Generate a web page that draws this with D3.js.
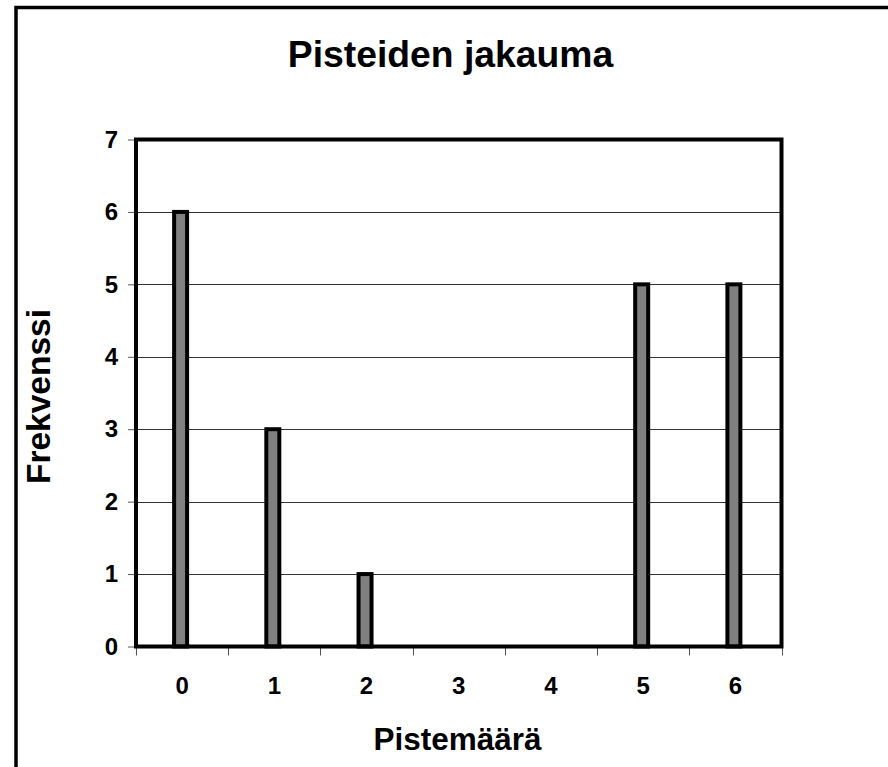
<!DOCTYPE html>
<html><head><meta charset="utf-8">
<script src="https://cdn.jsdelivr.net/npm/d3@7"></script>
<style>html,body{margin:0;padding:0;background:#fff;overflow:hidden}</style>
</head><body>
<script>
const categories = ["0","1","2","3","4","5","6"];
const values = [6,3,1,0,0,5,5];
const yTicks = [0,1,2,3,4,5,6,7];
const title = "Pisteiden jakauma";
const xTitle = "Pistemäärä";
const yTitle = "Frekvenssi";

(function(){
const W = 888, H = 767;
const svg = d3.select("body").append("svg").attr("width", W).attr("height", H);
const font = "'Liberation Sans', Arial, sans-serif";

svg.append("rect").attr("x",16).attr("y",7.5).attr("width",1000).attr("height",1000)
  .attr("fill","#fff").attr("stroke","#000").attr("stroke-width",3.5);

const pL = 136, pR = 781.5, pT = 139.5, pB = 646.5;
const x = d3.scaleBand().domain(categories).range([pL, pR]).padding(0);
const y = d3.scaleLinear().domain([0,7]).range([pB, pT]);

// gridlines
svg.append("g").selectAll("line").data(yTicks.filter(d=>d>0 && d<7)).join("line")
  .attr("x1",pL).attr("x2",pR).attr("y1",d=>Math.round(y(d))+0.5).attr("y2",d=>Math.round(y(d))+0.5)
  .attr("stroke","#333").attr("stroke-width",1);

// y axis ticks & labels
const yAxis = d3.axisLeft(y).tickValues(yTicks).tickSize(8).tickPadding(10).tickFormat(d3.format("d"));
const gy = svg.append("g").attr("transform",`translate(${pL},0)`).call(yAxis);
gy.select(".domain").remove();
gy.selectAll(".tick line").attr("stroke","#555").attr("stroke-width",1);
gy.selectAll(".tick text").attr("font-family",font).attr("font-weight","bold").attr("font-size",24).attr("fill","#000");

// x axis ticks (boundaries)
const bounds = d3.range(categories.length+1).map(i => pL + i*x.step());
svg.append("g").selectAll("line").data(bounds).join("line")
  .attr("x1",d=>Math.round(d)+0.5).attr("x2",d=>Math.round(d)+0.5).attr("y1",pB).attr("y2",pB+9)
  .attr("stroke","#555").attr("stroke-width",1);
svg.append("g").selectAll("text").data(categories).join("text")
  .attr("x",d=>x(d)+x.bandwidth()/2).attr("y",694)
  .attr("text-anchor","middle").attr("font-family",font).attr("font-weight","bold").attr("font-size",24)
  .text(d=>d);

// bars
const bw = 13;
const barData = values.map((v,i)=>({c:categories[i],v})).filter(d=>d.v>0);
svg.append("g").selectAll("rect").data(barData).join("rect")
  .attr("x",d=>x(d.c)+x.bandwidth()/2 - bw/2 - 1.5).attr("width",bw)
  .attr("y",d=>y(d.v)).attr("height",d=>y(0)-y(d.v))
  .attr("fill","#808080").attr("stroke","#000").attr("stroke-width",4);

// plot border
svg.append("rect").attr("x",pL).attr("y",pT).attr("width",pR-pL).attr("height",pB-pT)
  .attr("fill","none").attr("stroke","#000").attr("stroke-width",4);

// titles
svg.append("text").attr("x",450.5).attr("y",67).attr("text-anchor","middle")
  .attr("font-family",font).attr("font-weight","bold").attr("font-size",37.3).text(title);
svg.append("text").attr("x",457.5).attr("y",750).attr("text-anchor","middle")
  .attr("font-family",font).attr("font-weight","bold").attr("font-size",31.5).text(xTitle);
svg.append("text").attr("transform","translate(50,396.5) rotate(-90)").attr("text-anchor","middle")
  .attr("font-family",font).attr("font-weight","bold").attr("font-size",33.5).text(yTitle);
})();
</script>
</body></html>
